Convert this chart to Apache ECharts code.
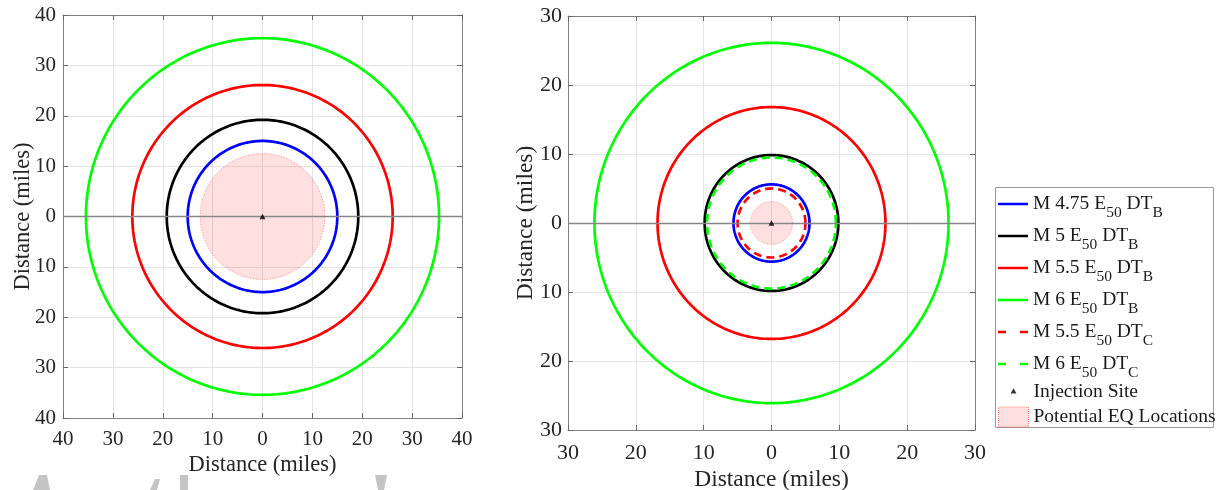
<!DOCTYPE html>
<html>
<head>
<meta charset="utf-8">
<script src="https://cdn.jsdelivr.net/npm/echarts@6/dist/echarts.min.js"></script>
<style>
  html, body { margin: 0; padding: 0; background: #ffffff; }
  #chart { width: 1219px; height: 490px; }
</style>
</head>
<body>
<div id="chart"></div>
<script>
// ---- data -------------------------------------------------------------
// Contours of the E50 damage-threshold distance (DT_B / DT_C) per magnitude
const contourNames = ['M 4.75 E50 DTB', 'M 5 E50 DTB', 'M 5.5 E50 DTB', 'M 6 E50 DTB', 'M 5.5 E50 DTC', 'M 6 E50 DTC'];
// Contour radii in miles (null: contour not shown in that panel)
const leftRadii  = [15.0, 19.2, 26.1, 35.4, null, null];
const rightRadii = [5.6, 9.85, 16.8, 26.1, 5.0, 9.5];
// Radius of the potential earthquake zone around the well (left, right), miles
const eqRadii = [12.5, 3.1];
// Injection site location
const injectionSite = [0, 0];
// Axis limits and tick step, miles
const leftLimits = [-40, 40];
const rightLimits = [-30, 30];
const tickStep = 10;
const axisTitle = 'Distance (miles)';
const siteName = 'Injection Site';
const eqName = 'Potential EQ Locations';

// ---- styles -----------------------------------------------------------
const FONT = 'Liberation Serif';
const TXT = '#262626';
const ringColors = ['#0000ff', '#000000', '#ff0000', '#00ff00', '#ff0000', '#00ff00'];
const ringDashes = [null, null, null, null, [8, 5], [8, 5]];
const RING_WIDTH = 2.7;
const SEG = 240;

// closed outline of a circle of radius r (data units) through the axis scales
function circlePoints(api, r) {
  const pts = [];
  for (let k = 0; k < SEG; k++) {
    const t = 2 * Math.PI * k / SEG;
    pts.push(api.coord([r * Math.cos(t), r * Math.sin(t)]));
  }
  return pts;
}

function ringRenderer(color, dash) {
  return function (params, api) {
    return {
      type: 'polygon',
      shape: { points: circlePoints(api, api.value(0)) },
      style: { fill: 'none', stroke: color, lineWidth: RING_WIDTH, lineDash: dash || null }
    };
  };
}

function eqRenderer(params, api) {
  return {
    type: 'polygon',
    shape: { points: circlePoints(api, api.value(0)) },
    style: { fill: 'rgba(255,0,0,0.12)', stroke: 'rgba(255,70,70,0.65)', lineWidth: 0.8, lineDash: [1.2, 1.6] }
  };
}

function makeAxes(gridIndex, lim, s) {
  const common = { gridIndex, type: 'value', min: lim[0], max: lim[1], interval: tickStep };
  const line = { onZero: false, lineStyle: { color: '#808080', width: 1 } };
  const tick = { inside: true, length: 5, lineStyle: { color: '#666666' } };
  const label = { fontFamily: FONT, fontSize: s.tick, color: TXT, formatter: v => String(Math.abs(v)), showMinLabel: true, showMaxLabel: true };
  const nameStyle = { fontFamily: FONT, fontSize: s.title, color: TXT };
  const split = { show: true, lineStyle: { color: '#e4e4e4', width: 1 } };
  return {
    x: [
      Object.assign({}, common, { position: 'bottom', axisLine: line, axisTick: tick,
        axisLabel: Object.assign({ margin: s.xMargin }, label), splitLine: split,
        name: axisTitle, nameLocation: 'middle', nameGap: s.xGap, nameTextStyle: nameStyle, nameMoveOverlap: false }),
      Object.assign({}, common, { position: 'top', axisLine: line, axisTick: tick,
        axisLabel: { show: false }, splitLine: { show: false } })
    ],
    y: [
      Object.assign({}, common, { position: 'left', axisLine: line, axisTick: tick,
        axisLabel: Object.assign({ margin: s.yMargin }, label), splitLine: split,
        name: axisTitle, nameLocation: 'middle', nameGap: s.yGap, nameTextStyle: nameStyle, nameMoveOverlap: false }),
      Object.assign({}, common, { position: 'right', axisLine: line, axisTick: tick,
        axisLabel: { show: false }, splitLine: { show: false } })
    ]
  };
}

const leftAxes = makeAxes(0, leftLimits, { tick: 21, title: 22.5, xMargin: 11, yMargin: 7, xGap: 36, yGap: 28 });
const rightAxes = makeAxes(1, rightLimits, { tick: 22, title: 23.5, xMargin: 12, yMargin: 6, xGap: 38, yGap: 30 });

function panelSeries(axisIndex, radii, eqR) {
  const list = [];
  list.push({
    type: 'custom', name: eqName, xAxisIndex: axisIndex, yAxisIndex: axisIndex,
    renderItem: eqRenderer, data: [[eqR]], z: 2, silent: true,
    itemStyle: { color: 'rgba(255,0,0,0.12)' },
    markLine: {
      silent: true, symbol: ['none', 'none'], label: { show: false },
      lineStyle: { color: '#868686', width: 1.3, type: 'solid' },
      emphasis: { disabled: true }, data: [{ yAxis: 0 }]
    }
  });
  radii.forEach((r, i) => {
    if (r == null) return;
    list.push({
      type: 'custom', name: contourNames[i], xAxisIndex: axisIndex, yAxisIndex: axisIndex,
      renderItem: ringRenderer(ringColors[i], ringDashes[i]), data: [[r]], z: 3, silent: true,
      itemStyle: { color: ringColors[i] }
    });
  });
  list.push({
    type: 'scatter', name: siteName, xAxisIndex: axisIndex, yAxisIndex: axisIndex,
    data: [injectionSite], symbol: 'triangle', symbolSize: [6, 5.5], z: 5, silent: true,
    itemStyle: { color: '#000000' }
  });
  return list;
}

// legend icons (30 x 20 boxes)
const LINE_ICON = 'path://M0,0M30,20M0,8.75h30v2.5h-30z';
const DASH_ICON = 'path://M0,0M30,20M0,8.75h8v2.5h-8zM22,8.75h8v2.5h-8z';
const TRI_ICON = 'path://M0,0M30,20M12,12L18,12L15,6.7Z';

const contourLegendData = contourNames.map((n, i) => ({
  name: n, icon: ringDashes[i] ? DASH_ICON : LINE_ICON, itemStyle: { color: ringColors[i], borderWidth: 0 }
}));
const markerLegendData = [
  { name: siteName, icon: TRI_ICON, itemStyle: { color: '#000000', borderWidth: 0 } },
  { name: eqName, icon: 'rect',
    itemStyle: { color: 'rgba(255,0,0,0.12)', borderColor: 'rgba(255,70,70,0.7)', borderWidth: 1, borderType: 'dotted' } }
];

const legendText = {
  fontFamily: FONT, fontSize: 19.5, color: '#1a1a1a',
  rich: { s: { fontFamily: FONT, fontSize: 15.5, color: '#1a1a1a', lineHeight: 27, padding: [17, 0, 0, 0] } }
};
const legendCommon = {
  orient: 'vertical', left: 995, align: 'left', padding: [0, 1, 0, 3],
  itemWidth: 30, itemHeight: 20, itemTextGap: 1, selectedMode: false,
  textStyle: legendText,
  formatter: name => name.replace(/E50 DT([BC])$/, 'E{s|50} DT{s|$1}')
};

// legend frame + faint grey letter fragments along the bottom edge
const WM = '#c4c4c4';
const decorations = [
  { type: 'rect', shape: { x: 995.5, y: 187.5, width: 218, height: 240 }, z: 0, silent: true,
    style: { fill: '#ffffff', stroke: '#9a9a9a', lineWidth: 1 } }
].concat([
  [[39, 475], [47, 475], [50, 490], [33, 490]],
  [[155, 479], [160, 479], [157, 490], [150, 490]],
  [[180, 475], [188, 475], [188, 490], [180, 490]],
  [[375, 475], [387, 475], [384, 490], [378, 490]]
].map(p => ({ type: 'polygon', shape: { points: p }, style: { fill: WM }, silent: true, z: -1 })));

const chart = echarts.init(document.getElementById('chart'), null, { renderer: 'canvas' });
chart.setOption({
  animation: false,
  backgroundColor: '#ffffff',
  grid: [
    { left: 63, top: 15, width: 399, height: 403, outerBoundsMode: 'none', containLabel: false },
    { left: 568, top: 16, width: 407, height: 414, outerBoundsMode: 'none', containLabel: false }
  ],
  xAxis: [leftAxes.x[0], rightAxes.x[0], leftAxes.x[1], rightAxes.x[1]],
  yAxis: [leftAxes.y[0], rightAxes.y[0], leftAxes.y[1], rightAxes.y[1]],
  legend: [
    Object.assign({ top: 187.5, itemGap: -1, data: contourLegendData }, legendCommon),
    Object.assign({ top: 381.5, itemGap: 5, data: markerLegendData }, legendCommon)
  ],
  graphic: decorations,
  series: panelSeries(0, leftRadii, eqRadii[0]).concat(panelSeries(1, rightRadii, eqRadii[1]))
});
</script>
</body>
</html>
